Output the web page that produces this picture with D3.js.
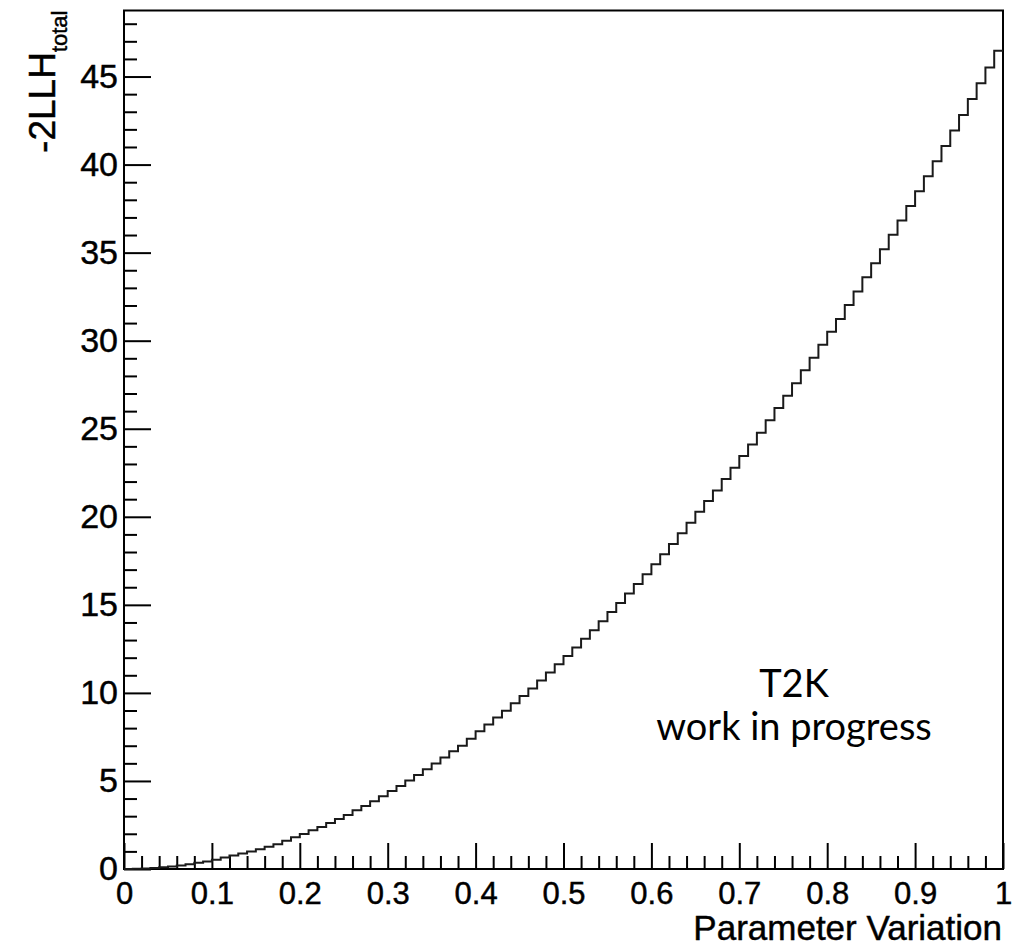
<!DOCTYPE html>
<html>
<head>
<meta charset="utf-8">
<script src="https://cdn.jsdelivr.net/npm/d3@7"></script>
<style>
  html, body { margin: 0; padding: 0; background: #fff; }
  svg { display: block; }
  .tick text, .axis-title { font-family: "Liberation Sans", Arial, sans-serif; fill: #000; stroke: #000; stroke-width: 0.45px; }
</style>
</head>
<body>
<svg id="chart" width="1030" height="946"></svg>
<script>
// Likelihood scan: 100 bins over the parameter variation range [0, 1]
const binLow = 0, binHigh = 1, nBins = 100;
const llhValues = [
  0.00, 0.01, 0.03, 0.06, 0.10, 0.14, 0.20, 0.27, 0.35, 0.43,
  0.53, 0.65, 0.76, 0.88, 0.99, 1.12, 1.26, 1.41, 1.60, 1.80,
  1.99, 2.20, 2.39, 2.61, 2.84, 3.07, 3.34, 3.58, 3.85, 4.13,
  4.43, 4.72, 5.02, 5.34, 5.66, 5.99, 6.33, 6.69, 7.00, 7.39,
  7.82, 8.20, 8.60, 8.98, 9.41, 9.83, 10.25, 10.70, 11.16, 11.63,
  12.10, 12.58, 13.07, 13.56, 14.07, 14.59, 15.11, 15.65, 16.19, 16.74,
  17.31, 17.87, 18.46, 19.06, 19.66, 20.28, 20.89, 21.50, 22.14, 22.78,
  23.45, 24.11, 24.77, 25.48, 26.18, 26.88, 27.58, 28.32, 29.03, 29.77,
  30.51, 31.23, 32.03, 32.79, 33.60, 34.40, 35.19, 36.01, 36.82, 37.65,
  38.49, 39.34, 40.19, 41.06, 41.93, 42.82, 43.73, 44.62, 45.51, 46.46
];
const xTickValues = [0, 0.1, 0.2, 0.3, 0.4, 0.5, 0.6, 0.7, 0.8, 0.9, 1];
const xTickLabels = ["0", "0.1", "0.2", "0.3", "0.4", "0.5", "0.6", "0.7", "0.8", "0.9", "1"];
const yTickValues = [0, 5, 10, 15, 20, 25, 30, 35, 40, 45];
const yTickLabels = ["0", "5", "10", "15", "20", "25", "30", "35", "40", "45"];
const yMax = 48.75;

const svg = d3.select("#chart");
const frame = { left: 124, right: 1003, top: 10.5, bottom: 869 };

const x = d3.scaleLinear().domain([binLow, binHigh]).range([frame.left, frame.right]);
const y = d3.scaleLinear().domain([0, yMax]).range([frame.bottom, frame.top]);

// minor ticks
const xMinor = d3.range(0, 51).map(i => i * 0.02).filter(v => Math.round(v * 50) % 5 !== 0);
const yMinor = d3.range(0, 49).filter(v => v % 5 !== 0);

svg.append("g")
  .attr("transform", `translate(0,${frame.bottom})`)
  .call(d3.axisBottom(x).tickValues(xMinor).tickSizeInner(-13).tickSizeOuter(0).tickFormat(""))
  .call(g => g.select(".domain").remove());

svg.append("g")
  .attr("transform", `translate(${frame.left},0)`)
  .call(d3.axisLeft(y).tickValues(yMinor).tickSizeInner(-13).tickSizeOuter(0).tickFormat(""))
  .call(g => g.select(".domain").remove());

// major ticks with labels
svg.append("g")
  .attr("transform", `translate(0,${frame.bottom})`)
  .call(d3.axisBottom(x).tickValues(xTickValues).tickSizeInner(-26).tickSizeOuter(0)
        .tickPadding(13).tickFormat((d, i) => xTickLabels[i]))
  .call(g => g.select(".domain").remove())
  .call(g => g.selectAll("text").attr("font-size", 31));

svg.append("g")
  .attr("transform", `translate(${frame.left},0)`)
  .call(d3.axisLeft(y).tickValues(yTickValues).tickSizeInner(-27).tickSizeOuter(0)
        .tickPadding(6).tickFormat((d, i) => yTickLabels[i]))
  .call(g => g.select(".domain").remove())
  .call(g => g.selectAll("text").attr("font-size", 34));

svg.selectAll(".tick line").attr("stroke", "#000").attr("stroke-width", 2);

// frame
svg.append("rect")
  .attr("x", frame.left).attr("y", frame.top)
  .attr("width", frame.right - frame.left).attr("height", frame.bottom - frame.top)
  .attr("fill", "none").attr("stroke", "#000").attr("stroke-width", 2);

// histogram outline
const binWidth = (binHigh - binLow) / nBins;
const pts = llhValues.map((v, i) => [binLow + i * binWidth, v]);
pts.push([binHigh, llhValues[llhValues.length - 1]]);
const line = d3.line().x(d => x(d[0])).y(d => y(d[1])).curve(d3.curveStepAfter);
svg.append("path")
  .attr("d", line(pts))
  .attr("fill", "none").attr("stroke", "#1a1a1a").attr("stroke-width", 2);

// axis titles
svg.append("text")
  .attr("class", "axis-title")
  .attr("x", 1002).attr("y", 940)
  .attr("text-anchor", "end")
  .attr("font-size", 35)
  .text("Parameter Variation");

const yTitle = svg.append("text")
  .attr("class", "axis-title")
  .attr("transform", `translate(55,${frame.top}) rotate(-90)`)
  .attr("text-anchor", "end")
  .attr("font-size", 37);
yTitle.append("tspan").text("-2LLH");
yTitle.append("tspan").attr("font-size", 22).attr("dy", 12).text("total");

// annotation
const note = svg.append("g").attr("font-family", "Lato, 'Open Sans', sans-serif")
  .attr("font-size", 38).attr("text-anchor", "middle").attr("fill", "#000");
note.append("text").attr("x", 794).attr("y", 697).text("T2K");
note.append("text").attr("x", 794).attr("y", 740).text("work in progress");
</script>
</body>
</html>
